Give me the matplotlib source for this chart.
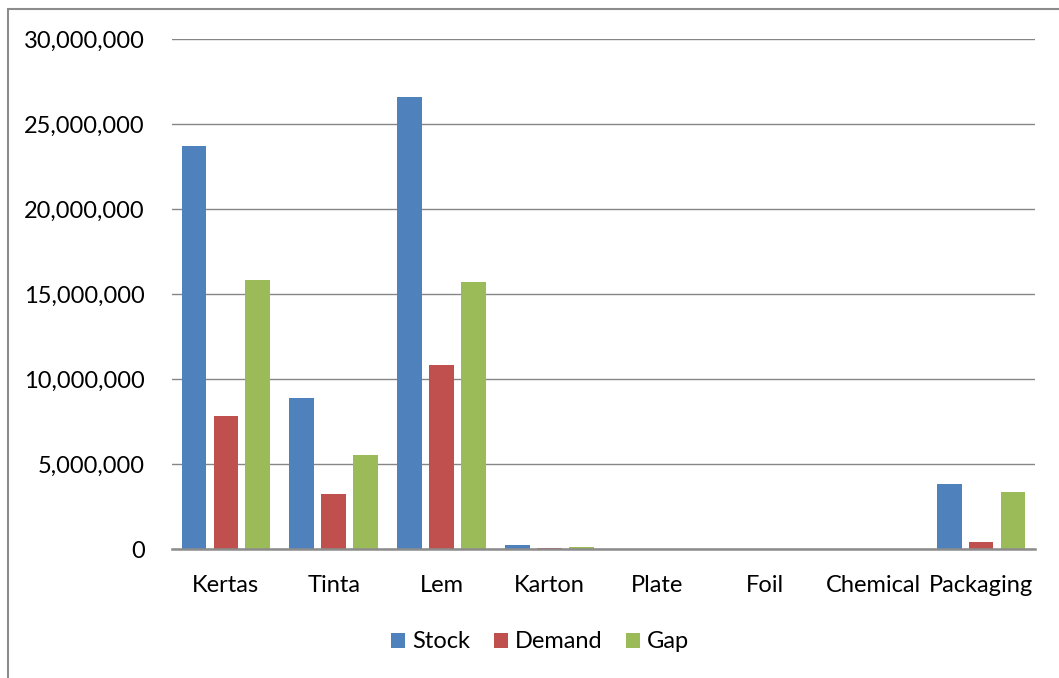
import numpy as np
import matplotlib
matplotlib.use("Agg")
import matplotlib.pyplot as plt
from matplotlib.patches import Rectangle
from matplotlib.ticker import FuncFormatter

plt.rcParams["font.family"] = ["Lato", "DejaVu Sans"]

categories = ["Kertas", "Tinta", "Lem", "Karton", "Plate", "Foil", "Chemical", "Packaging"]
stock = [23700000, 8880000, 26590000, 240000, 0, 0, 0, 3820000]
demand = [7820000, 3260000, 10820000, 70000, 0, 0, 0, 410000]
gap = [15820000, 5530000, 15700000, 120000, 0, 0, 0, 3340000]

colors = ["#4f81bd", "#c0504d", "#9bbb59"]

fig = plt.figure(figsize=[10.59, 6.78], dpi=100)
ax = fig.add_axes([172 / 1059, 129 / 678, 863 / 1059, 510 / 678])

# outer chart frame, running off the right and bottom edges
fig.patches.append(
    Rectangle((8 / 1059, -0.05), 1.1, 1 - 9 / 678 + 0.05, transform=fig.transFigure,
              fill=False, edgecolor="#8c8c8c", linewidth=1.5, zorder=0)
)

x = np.arange(len(categories))
w = 0.23
step = 0.296
for i, (vals, lab) in enumerate(zip([stock, demand, gap], ["Stock", "Demand", "Gap"])):
    ax.bar(x + (i - 1) * step, vals, width=w, color=colors[i], label=lab, zorder=3)

ax.set_xlim(-0.5, len(categories) - 0.5)
ax.set_ylim(0, 30000000)
ax.set_yticks(np.arange(0, 30000001, 5000000))
ax.yaxis.set_major_formatter(FuncFormatter(lambda v, p: "{:,.0f}".format(v)))
ax.set_xticks(x)
ax.set_xticklabels(categories)
ax.grid(axis="y", color="#868686", linewidth=1.0, zorder=0)

for s in ["left", "right", "top"]:
    ax.spines[s].set_visible(False)
ax.spines["bottom"].set_color("#8c8c8c")
ax.spines["bottom"].set_linewidth(1.8)
ax.spines["bottom"].set_zorder(4)
ax.tick_params(axis="both", length=0, labelsize=17, colors="black")
ax.tick_params(axis="y", pad=19.5)
ax.tick_params(axis="x", pad=19)

fig.legend(loc="center", bbox_to_anchor=(540 / 1059, 1 - 642 / 678), ncol=3, frameon=False,
           fontsize=17, handlelength=0.6, handleheight=0.6, handletextpad=0.3, columnspacing=1.0)

fig.savefig("out.png", dpi=100)
